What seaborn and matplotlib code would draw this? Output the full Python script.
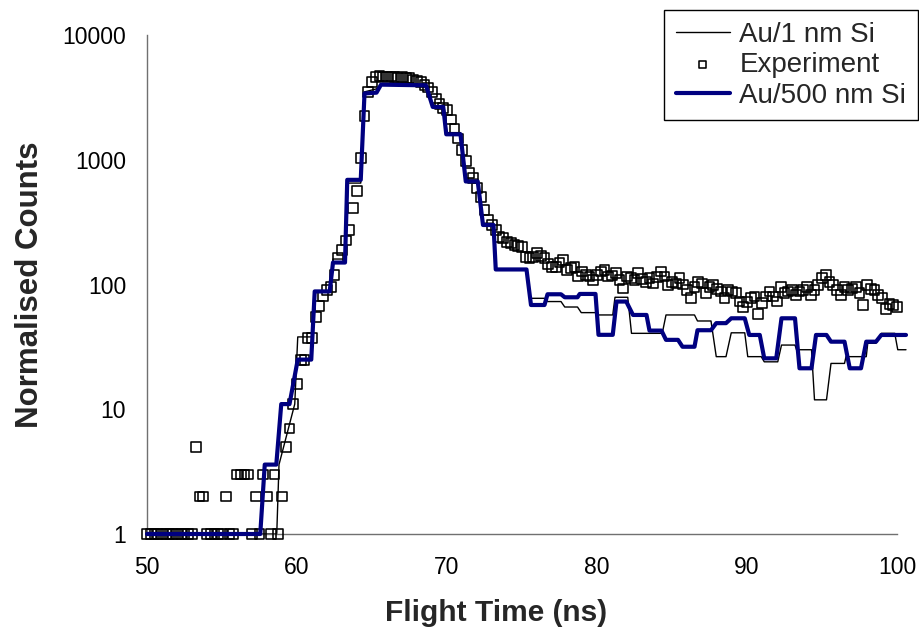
import numpy as np
import pandas as pd
import matplotlib
matplotlib.use("Agg")
import matplotlib.pyplot as plt
import seaborn as sns

# ---------------- data ----------------
exp_start, exp_step = 50.0, 0.25
exp_counts = [
    1, 1, 1, 1,   1, 1, 1, 1,   1, 1, 1, 1,   1, 5, 2, 2,
    1, 1, 1, 1,   1, 2, 1, 1,   3, 3, 3, 3,   1, 2, 1, 3,
    2, 1, 3, 1,   2, 5, 7, 11,
    16, 25, 25, 37,   37, 55, 67, 80,   90, 95, 119, 163,
    190, 225, 275, 410,   560, 1040, 2240, 3500,
    4230, 4600, 4700, 4650,   4600, 4650, 4600, 4550,
    4600, 4500, 4500, 4400,   4300, 4200, 4000, 3800,
    3500, 3100, 2800, 2600,   2500, 2100, 1780, 1480,
    1200, 970, 780, 710,   590, 505, 395, 330,
    300, 275, 240, 235,   220, 215, 208, 205,
    200, 167, 164, 167,   178, 170, 163, 145,
    139, 139, 150, 157,   131, 135, 139, 116,
    127, 120, 116, 109,   120, 127, 131, 116,
    118, 123, 109, 93,   116, 112, 109, 123,
    110, 105, 112, 102,   115, 127, 116, 99,
    104, 102, 112, 100,   90, 78, 96, 105,
    102, 85, 96, 99,   92, 88, 78, 90,
    88, 85, 73, 66,   72, 78, 80, 58,
    71, 80, 88, 80,   73, 96, 85, 88,
    90, 82, 88, 90,   96, 82, 90, 99,
    112, 119, 105, 99,   90, 82, 96, 90,
    93, 96, 85, 68,   99, 92, 90, 82,
    78, 64, 70, 68,   66,
]
exp_time = [round(exp_start + i * exp_step, 2) for i in range(len(exp_counts))]

# Au/1 nm Si simulation (thin black)
thin_time = [50, 58.65, 58.8, 59.85, 60.05, 61.0, 61.2, 62.2, 62.4, 63.2, 63.4, 64.25,
             64.5, 65.3, 65.6, 68.6, 69.05, 69.8, 70.0, 70.9, 71.25, 72.05, 72.4, 73.1,
             73.25, 75.3, 75.55, 76.5, 76.7, 77.6, 77.85, 78.7, 78.95, 79.95, 80.0, 81.05,
             81.2, 82.05, 82.3, 84.35, 84.6, 86.5, 86.7, 87.6, 87.95, 88.6, 88.95, 89.85,
             90.05, 90.95, 91.15, 92.05, 92.3, 93.2, 93.3, 94.3, 94.5, 95.3, 95.6, 96.5,
             96.6, 97.95, 98.05, 98.6, 98.95, 99.85, 100.05, 100.6]
thin_counts = [1, 1, 3.6, 11, 38, 38, 88, 88, 160, 160, 650, 650,
               3500, 3700, 4000, 4000, 2700, 2700, 1650, 1650, 700, 700, 310, 310,
               132, 130, 77.5, 77.5, 73, 73, 66, 66, 59.5, 59.5, 57, 57,
               79, 79, 40.6, 40.6, 57, 57, 51, 51, 26.4, 26.4, 41, 41,
               26.4, 26.4, 24, 24, 32.7, 32.7, 30, 30, 11.9, 11.9, 23.3, 23.3,
               26.4, 26.4, 33.8, 33.8, 40.6, 40.6, 30, 30]

# Au/500 nm Si simulation (thick navy)
thick_time = [50, 57.55, 57.85, 58.62, 58.95, 59.5, 60.05, 60.95, 61.18, 62.18, 62.4, 63.2,
              63.35, 64.25, 64.5, 65.3, 65.6, 68.6, 69.05, 69.75, 69.95, 70.9, 71.25, 72.05,
              72.4, 73.1, 73.25, 75.3, 75.6, 76.5, 76.7, 77.6, 77.85, 78.7, 78.85, 79.9,
              80.1, 81.05, 81.3, 81.95, 82.4, 83.3, 83.5, 84.3, 84.6, 85.4, 85.7, 86.5,
              86.7, 87.6, 87.95, 88.6, 88.95, 89.85, 90.15, 90.85, 91.15, 91.95, 92.3, 93.2,
              93.5, 94.3, 94.6, 95.3, 95.6, 96.5, 96.85, 97.6, 97.95, 98.6, 98.95, 100.6]
thick_counts = [1, 1, 3.6, 3.6, 11, 11, 25, 25, 88, 88, 150, 150,
                690, 690, 3400, 3450, 4000, 3950, 2650, 2650, 1600, 1600, 670, 670,
                300, 300, 132, 132, 68.5, 68.5, 83.5, 83.5, 79, 79, 84, 84,
                39.5, 39.5, 73, 73, 57, 57, 42.7, 42.7, 36, 36, 31.7, 31.7,
                43, 43, 49, 49, 53.6, 53.6, 39.4, 39.4, 25.6, 25.6, 53.6, 53.6,
                21.3, 21.3, 39.4, 39.4, 34.8, 34.8, 21.3, 21.3, 34.8, 34.8, 39.4, 39.4]

x_ticks = [50, 60, 70, 80, 90, 100]
y_ticks = [1, 10, 100, 1000, 10000]
y_tick_labels = ["1", "10", "100", "1000", "10000"]

labels = ["Au/1 nm Si", "Experiment", "Au/500 nm Si"]

# ---------------- plot ----------------
sns.set_theme(style="white")
plt.rcParams["font.family"] = ["Liberation Sans", "DejaVu Sans"]

fig = plt.figure(figsize=(9.2, 6.39), dpi=100)
ax = fig.add_axes([147 / 920, 105 / 639, 750 / 920, 499 / 639])

df_exp = pd.DataFrame({"t": exp_time, "c": exp_counts})
df_thin = pd.DataFrame({"t": thin_time, "c": thin_counts})
df_thick = pd.DataFrame({"t": thick_time, "c": thick_counts})

sns.lineplot(data=df_thin, x="t", y="c", ax=ax, color="black", linewidth=1.0,
             estimator=None, sort=False, label=labels[0], clip_on=False, zorder=2)
sns.scatterplot(data=df_exp, x="t", y="c", ax=ax, marker="s", s=50,
                facecolor="none", edgecolor="black", linewidth=1.15,
                label=labels[1], clip_on=False, zorder=3)
sns.lineplot(data=df_thick, x="t", y="c", ax=ax, color="#000080", linewidth=3.0,
             estimator=None, sort=False, label=labels[2], clip_on=False, zorder=4)

ax.set_yscale("log")
ax.set_xlim(50, 100)
ax.set_ylim(1, 10000)
ax.set_xticks(x_ticks)
ax.set_xticklabels([str(v) for v in x_ticks])
ax.set_yticks(y_ticks)
ax.set_yticklabels(y_tick_labels)
ax.minorticks_off()

for side in ["top", "right"]:
    ax.spines[side].set_visible(False)
for side in ["left", "bottom"]:
    ax.spines[side].set_color("#707070")
    ax.spines[side].set_linewidth(1.0)

ax.tick_params(axis="both", which="major", direction="out", length=6, width=1,
               color="#707070", labelsize=16.5, labelcolor="black")
ax.tick_params(axis="y", pad=9)
ax.tick_params(axis="x", pad=10)

ax.set_xlabel("Flight Time (ns)", fontsize=21.5, fontweight="bold", va="center")
ax.set_ylabel("Normalised Counts", fontsize=22.5, fontweight="bold", va="center")
ax.xaxis.set_label_coords((496 - 147) / 750, (534 - 613) / 499)
ax.yaxis.set_label_coords((30 - 147) / 750, 0.5)

handles, lbls = ax.get_legend_handles_labels()
leg = ax.legend(handles, lbls, loc="upper right",
                bbox_to_anchor=(918 / 920, 1 - 10 / 639), bbox_transform=fig.transFigure,
                fontsize=20, frameon=True, fancybox=False, framealpha=1,
                edgecolor="black", handlelength=1.95, handletextpad=0.35,
                borderpad=0.42, labelspacing=0.16, markerscale=0.7, borderaxespad=0)
leg.get_frame().set_linewidth(1.0)

fig.savefig("out.png", dpi=100)
